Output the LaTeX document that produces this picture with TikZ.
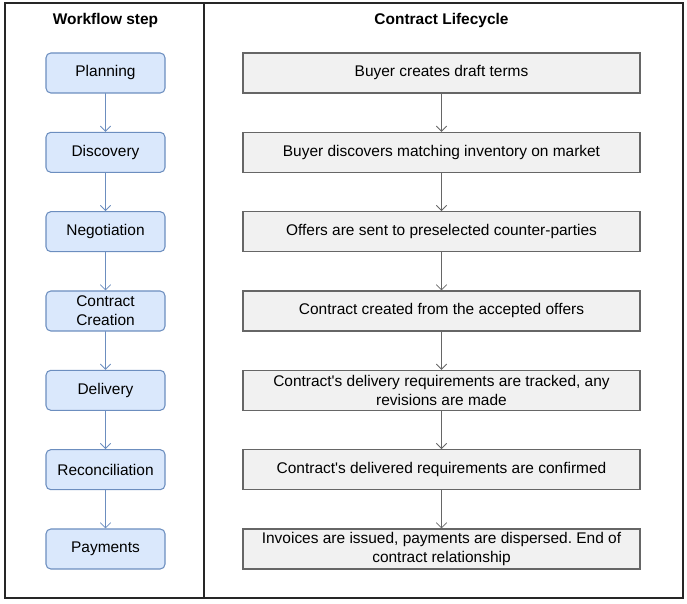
\documentclass[tikz,border=0pt]{standalone}
\usepackage{fontspec}
\setmainfont{Liberation Sans}
\usepackage{tikz}
\usetikzlibrary{arrows.meta}
\usepackage{xcolor}
\definecolor{stepfill}{HTML}{DAE8FC}
\definecolor{stepline}{HTML}{6C8EBF}
\definecolor{lifefill}{HTML}{F1F1F1}
\definecolor{lifeline}{HTML}{666666}
\frenchspacing

\begin{document}
\begin{tikzpicture}[>={Straight Barb[length=1.3mm,width=2.6mm]},font=\fontsize{11}{13.5}\selectfont,line cap=round,
  stepbox/.style={draw=stepline,fill=stepfill,line width=0.75pt,rounded corners=0.12cm,minimum width=2.975cm,minimum height=1cm,align=center,inner sep=1pt},
  lifebox/.style={draw=lifeline,fill=lifefill,line width=0.75pt,minimum width=9.925cm,minimum height=1cm,align=center,inner sep=1pt},
  steparrow/.style={->,draw=stepline,line width=0.6pt},
  lifearrow/.style={->,draw=lifeline,line width=0.6pt}]
\useasboundingbox (0,0) rectangle (17.175,15.1);
% frame and column divider
\draw[line width=1.1pt,black!85] (0.125,0.15) rectangle (17.075,15.025);
\draw[line width=1.1pt,black!85] (5.1,0.15) -- (5.1,15.025);
\node[font=\fontsize{11}{13.5}\selectfont\bfseries] (hstep) at (2.6375,14.58) {Workflow step};
\node[font=\fontsize{11}{13.5}\selectfont\bfseries] (hlife) at (11.0375,14.58) {Contract Lifecycle};
% workflow steps
\node[stepbox] (plan) at (2.6375,13.275) {Planning};
\node[stepbox] (disc) at (2.6375,11.292) {Discovery};
\node[stepbox] (nego) at (2.6375,9.308) {Negotiation};
\node[stepbox] (crea) at (2.6375,7.325) {Contract\\Creation};
\node[stepbox] (deli) at (2.6375,5.342) {Delivery};
\node[stepbox] (reco) at (2.6375,3.358) {Reconciliation};
\node[stepbox] (paym) at (2.6375,1.375) {Payments};
\draw[steparrow] (plan) -- (disc);
\draw[steparrow] (disc) -- (nego);
\draw[steparrow] (nego) -- (crea);
\draw[steparrow] (crea) -- (deli);
\draw[steparrow] (deli) -- (reco);
\draw[steparrow] (reco) -- (paym);
% lifecycle
\node[lifebox] (draft) at (11.0375,13.275) {Buyer creates draft terms};
\node[lifebox] (invent) at (11.0375,11.292) {Buyer discovers matching inventory on market};
\node[lifebox] (offers) at (11.0375,9.308) {Offers are sent to preselected counter-parties};
\node[lifebox] (accept) at (11.0375,7.325) {Contract created from the accepted offers};
\node[lifebox] (track) at (11.0375,5.342) {Contract\textquotesingle s delivery requirements are tracked, any\\revisions are made};
\node[lifebox] (confirm) at (11.0375,3.358) {Contract\textquotesingle s delivered requirements are confirmed};
\node[lifebox] (invoice) at (11.0375,1.375) {Invoices are issued, payments are dispersed. End of\\contract relationship};
\draw[lifearrow] (draft) -- (invent);
\draw[lifearrow] (invent) -- (offers);
\draw[lifearrow] (offers) -- (accept);
\draw[lifearrow] (accept) -- (track);
\draw[lifearrow] (track) -- (confirm);
\draw[lifearrow] (confirm) -- (invoice);
\end{tikzpicture}
\end{document}
